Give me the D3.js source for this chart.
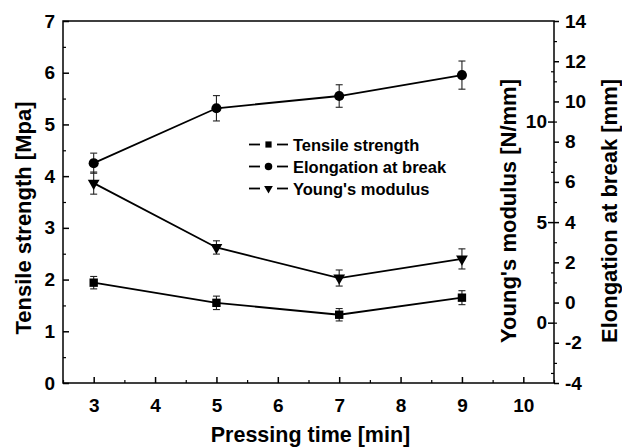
<!DOCTYPE html>
<html><head><meta charset="utf-8">
<script src="https://cdn.jsdelivr.net/npm/d3@7"></script>
<style>body{margin:0;background:#fff}svg{display:block}</style>
</head><body><svg id="c" width="622" height="448"></svg>
<script>
const times = [3, 5, 7, 9];
const tensile = [1.94, 1.55, 1.32, 1.65];
const tensileErr = [0.12, 0.13, 0.12, 0.135];
const elongation = [6.93, 9.66, 10.27, 11.31];
const elongationErr = [0.5, 0.63, 0.56, 0.7];
const young = [6.94, 3.74, 2.22, 3.17];
const youngErr = [0.55, 0.33, 0.4, 0.5];
const xTicks = [3, 4, 5, 6, 7, 8, 9, 10];
const leftTicks = [0, 1, 2, 3, 4, 5, 6, 7];
const youngTicks = [0, 5, 10];
const elongTicks = [-4, -2, 0, 2, 4, 6, 8, 10, 12, 14];
const legendLabels = ["Tensile strength", "Elongation at break", "Young's modulus"];

const FONT = "'Liberation Sans', Arial, Helvetica, sans-serif";
const svg = d3.select("#c");
const L = 63, R = 554, T = 21, B = 383;
const x = d3.scaleLinear().domain([2.5, 10.5]).range([L, R]);
const yL = d3.scaleLinear().domain([0, 7]).range([B, T]);
const yY = d3.scaleLinear().domain([-3, 15]).range([B, T]);
const yE = d3.scaleLinear().domain([-4, 14]).range([B, T]);
const fmt = d => String(d);

// frame
svg.append("rect").attr("x", L).attr("y", T).attr("width", R - L).attr("height", B - T)
  .attr("fill", "none").attr("stroke", "#000").attr("stroke-width", 1.5);

function style(g) {
  g.select(".domain").remove();
  g.selectAll("line").attr("stroke-width", 1.5);
  g.selectAll("text").style("font-family", FONT).style("font-weight", "bold").style("font-size", "19px").attr("fill", "#000");
}
function minor(g) { g.select(".domain").remove(); g.selectAll("line").attr("stroke-width", 1.2); }

// bottom axis
const xMinor = d3.range(2.5, 10.51, 0.5).filter(v => !Number.isInteger(v));
svg.append("g").attr("transform", `translate(0,${B})`)
  .call(d3.axisBottom(x).tickValues(xMinor).tickSize(-3).tickFormat("")).call(minor);
svg.append("g").attr("transform", `translate(0,${B})`)
  .call(d3.axisBottom(x).tickValues(xTicks).tickSize(-6).tickPadding(16).tickFormat(fmt)).call(style);

// left axis
svg.append("g").attr("transform", `translate(${L},0)`)
  .call(d3.axisLeft(yL).tickValues(d3.range(0.5, 7, 1)).tickSize(-3).tickFormat("")).call(minor);
svg.append("g").attr("transform", `translate(${L},0)`)
  .call(d3.axisLeft(yL).tickValues(leftTicks).tickSize(-6).tickPadding(8).tickFormat(fmt)).call(style);

// Young's axis (ticks inward, labels inside)
svg.append("g").attr("transform", `translate(${R},0)`)
  .call(d3.axisLeft(yY).tickValues([-2.5, 2.5, 7.5, 12.5]).tickSize(3).tickFormat("")).call(minor);
svg.append("g").attr("transform", `translate(${R},0)`)
  .call(d3.axisLeft(yY).tickValues(youngTicks).tickSize(6).tickPadding(1).tickFormat(fmt)).call(style);

// Elongation axis (ticks outward)
svg.append("g").attr("transform", `translate(${R},0)`)
  .call(d3.axisRight(yE).tickValues(d3.range(-3, 14, 2)).tickSize(3).tickFormat("")).call(minor);
svg.append("g").attr("transform", `translate(${R},0)`)
  .call(d3.axisRight(yE).tickValues(elongTicks).tickSize(5).tickPadding(6).tickFormat(fmt)).call(style);

// titles
function title(t, size) { return t.style("font-family", FONT).style("font-weight", "bold").style("font-size", (size || 22) + "px").attr("fill", "#000").attr("text-anchor", "middle"); }
title(svg.append("text").attr("transform", `translate(31,218) rotate(-90)`)).text("Tensile strength [Mpa]");
title(svg.append("text").attr("x", (L + R) / 2 + 2).attr("y", 442), 21.5).text("Pressing time [min]");
title(svg.append("text").attr("transform", `translate(516,211) rotate(-90)`)).text("Young's modulus [N/mm]");
title(svg.append("text").attr("transform", `translate(617,211) rotate(-90)`)).text("Elongation at break [mm]");

const sym = [d3.symbolSquare, d3.symbolCircle, d3.symbolTriangle];
const symSize = [70, 80, 60];
const series = [
  { v: tensile, e: tensileErr, y: yL },
  { v: elongation, e: elongationErr, y: yE },
  { v: young, e: youngErr, y: yY }
];
const line = (s) => d3.line().x((d, i) => x(times[i])).y(d => s.y(d));
series.forEach((s, k) => {
  const g = svg.append("g");
  g.append("path").attr("d", line(s)(s.v)).attr("fill", "none").attr("stroke", "#000").attr("stroke-width", 1.8);
  s.v.forEach((v, i) => {
    const cx = x(times[i]), y1 = s.y(v + s.e[i]), y2 = s.y(v - s.e[i]);
    g.append("line").attr("x1", cx).attr("x2", cx).attr("y1", y1).attr("y2", y2).attr("stroke", "#222").attr("stroke-width", 1.1);
    [y1, y2].forEach(yy => g.append("line").attr("x1", cx - 3.5).attr("x2", cx + 3.5).attr("y1", yy).attr("y2", yy).attr("stroke", "#222").attr("stroke-width", 1.1));
    g.append("path").attr("d", d3.symbol().type(sym[k]).size(symSize[k])())
      .attr("transform", `translate(${cx},${s.y(v)})` + (k === 2 ? " rotate(180)" : "")).attr("fill", "#000");
  });
});

// legend
legendLabels.forEach((lab, k) => {
  const ly = 144.5 + k * 22;
  const g = svg.append("g");
  g.append("line").attr("x1", 249).attr("x2", 260).attr("y1", ly).attr("y2", ly).attr("stroke", "#000").attr("stroke-width", 1.8);
  g.append("line").attr("x1", 277).attr("x2", 288).attr("y1", ly).attr("y2", ly).attr("stroke", "#000").attr("stroke-width", 1.8);
  g.append("path").attr("d", d3.symbol().type(sym[k]).size(symSize[k] * 0.55)())
    .attr("transform", `translate(268.5,${ly})` + (k === 2 ? " rotate(180)" : "")).attr("fill", "#000");
  g.append("text").attr("x", 293).attr("y", ly + 6).style("font-family", FONT).style("font-weight", "bold")
    .style("font-size", "16.5px").attr("fill", "#000").text(lab);
});
</script></body></html>
